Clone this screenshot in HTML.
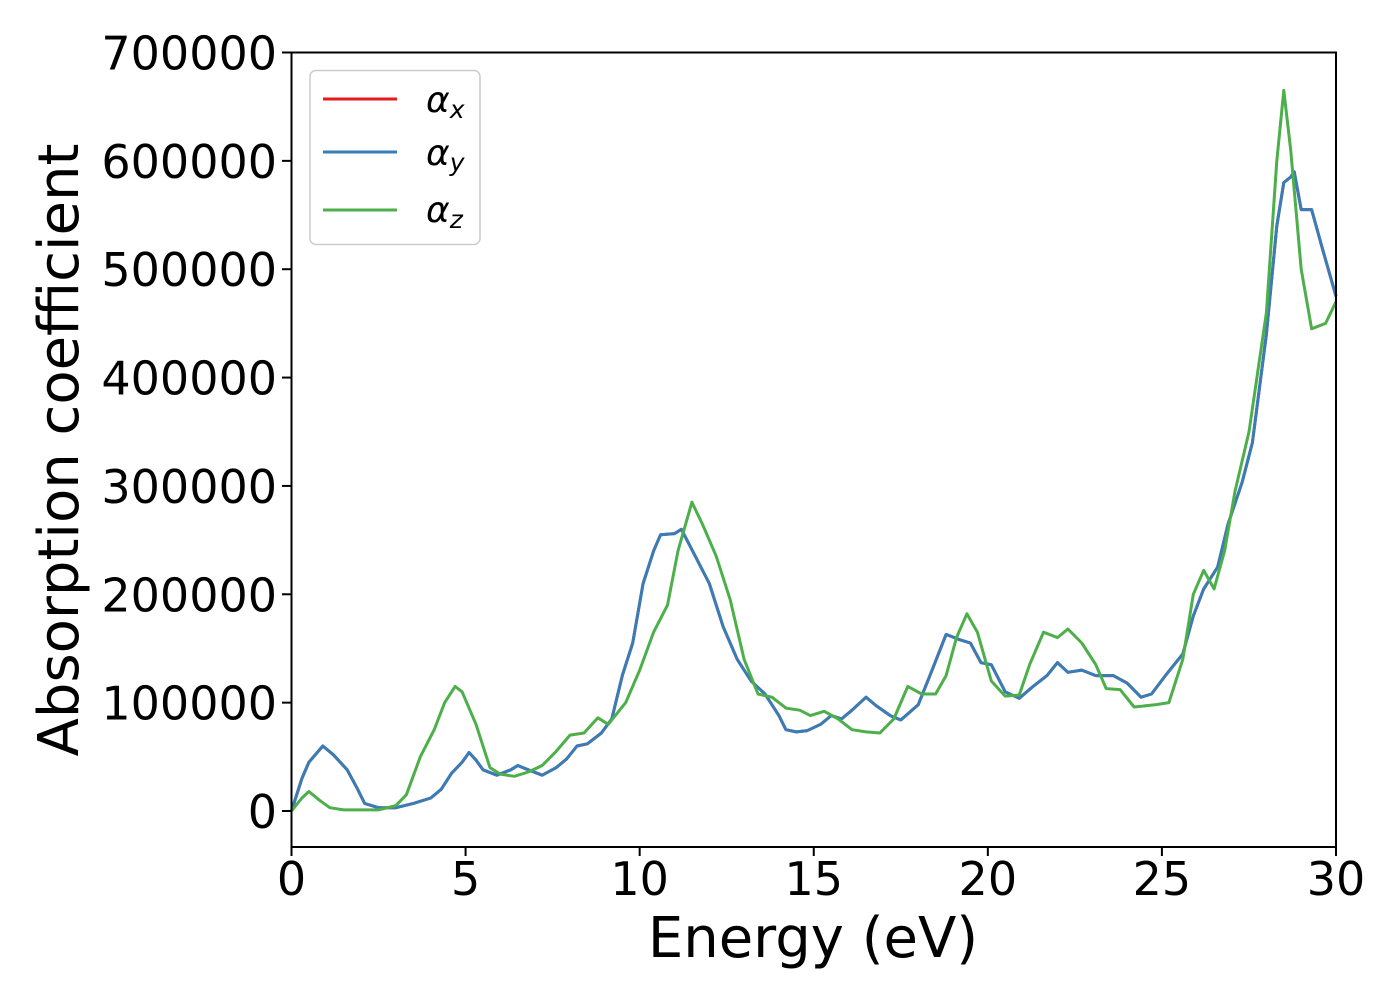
<!DOCTYPE html>
<html><head><meta charset="utf-8"><style>
html,body{margin:0;padding:0;background:#fff;}
svg{display:block;font-family:"DejaVu Sans","Liberation Sans",sans-serif;}
</style></head><body>
<svg id="chart" width="1400" height="1000" xmlns="http://www.w3.org/2000/svg">
<rect width="1400" height="1000" fill="#fff"/>
<g id="marks"></g>
<rect x="291.5" y="52.5" width="1044.5" height="794.5" fill="none" stroke="#000" stroke-width="2"/>
<g id="xt"></g>
<g id="yt"></g>
<text x="813" y="957" font-size="56" text-anchor="middle">Energy (eV)</text>
<text transform="translate(78,450) rotate(-90)" font-size="56" text-anchor="middle">Absorption coefficient</text>
<g>
<rect x="310" y="70.5" width="170" height="174" rx="6" fill="#fff" fill-opacity="0.8" stroke="#ccc" stroke-width="1.5"/>
<line x1="323" y1="99" x2="397" y2="99" stroke="#e41a1c" stroke-width="3"/>
<text x="426" y="112" font-size="36" font-style="italic">α<tspan font-size="25" dy="6">x</tspan></text>
<line x1="323" y1="152" x2="397" y2="152" stroke="#377eb8" stroke-width="3"/>
<text x="426" y="165" font-size="36" font-style="italic">α<tspan font-size="25" dy="6">y</tspan></text>
<line x1="323" y1="210" x2="397" y2="210" stroke="#4daf4a" stroke-width="3"/>
<text x="426" y="222" font-size="36" font-style="italic">α<tspan font-size="25" dy="6">z</tspan></text>
</g>
</svg>
<script>
const xyEnergy=[0,0.3,0.5,0.9,1.2,1.6,1.9,2.1,2.5,3,3.5,4,4.3,4.6,4.9,5.1,5.3,5.5,5.9,6.3,6.5,6.8,7.2,7.6,7.9,8.2,8.5,8.9,9.2,9.5,9.8,10.1,10.4,10.6,11.0,11.2,11.6,12.0,12.4,12.8,13.2,13.6,14.0,14.2,14.5,14.8,15.2,15.5,15.8,16.1,16.5,16.8,17.2,17.5,18.0,18.4,18.8,19.2,19.5,19.8,20.1,20.5,20.9,21.3,21.7,22.0,22.3,22.7,23.1,23.6,24.0,24.4,24.7,25.1,25.6,25.9,26.2,26.6,26.9,27.3,27.6,28.0,28.3,28.5,28.7,28.8,29.0,29.3,29.6,30];
const alphaXY=[0,30000,45000,60000,52000,38000,20000,7000,3000,3000,7000,12000,20000,35000,45000,54000,47000,38000,33000,38000,42000,38000,33000,40000,48000,60000,62000,72000,85000,125000,155000,210000,240000,255000,256000,260000,235000,210000,170000,140000,120000,108000,88000,75000,73000,74000,80000,88000,85000,93000,105000,97000,88000,84000,98000,130000,163000,158000,155000,137000,135000,110000,104000,115000,125000,137000,128000,130000,125000,125000,118000,105000,108000,125000,145000,180000,205000,225000,265000,303000,340000,440000,540000,580000,585000,590000,555000,555000,520000,475000];
const zEnergy=[0,0.3,0.5,0.8,1.1,1.5,2.5,3.0,3.3,3.7,4.1,4.4,4.7,4.9,5.3,5.7,6.0,6.4,6.8,7.2,7.6,8.0,8.4,8.8,9.1,9.6,10.0,10.4,10.8,11.1,11.5,11.8,12.2,12.6,13.0,13.4,13.8,14.2,14.6,14.9,15.3,15.7,16.1,16.5,16.9,17.3,17.7,18.1,18.5,18.8,19.1,19.4,19.7,20.1,20.5,20.9,21.2,21.6,22.0,22.3,22.7,23.1,23.4,23.8,24.2,24.8,25.2,25.6,25.9,26.2,26.5,26.8,27.1,27.5,28.0,28.3,28.5,28.7,29.0,29.3,29.7,30];
const alphaZ=[0,12000,18000,10000,3000,1000,1000,5000,15000,50000,75000,100000,115000,110000,80000,40000,34000,32000,36000,42000,55000,70000,72000,86000,80000,100000,130000,165000,190000,240000,285000,265000,235000,195000,140000,108000,105000,95000,93000,88000,92000,85000,75000,73000,72000,85000,115000,108000,108000,125000,160000,182000,165000,120000,106000,107000,135000,165000,160000,168000,155000,135000,113000,112000,96000,98000,100000,140000,200000,222000,205000,240000,295000,350000,460000,600000,665000,610000,500000,445000,450000,470000];
const xTicks=[0,5,10,15,20,25,30];
const yTicks=[0,100000,200000,300000,400000,500000,600000,700000];
const NS="http://www.w3.org/2000/svg";
function sx(e){return 291.5+e*(1336-291.5)/30;}
function sy(v){return 811-v*(811-52.5)/700000;}
function path(xs,ys){let d="";for(let i=0;i<xs.length;i++){d+=(i?"L":"M")+sx(xs[i]).toFixed(1)+","+sy(ys[i]).toFixed(1);}return d;}
const marks=document.getElementById("marks");
function addLine(xs,ys,color,name){
 const p=document.createElementNS(NS,"path");
 p.setAttribute("d",path(xs,ys));p.setAttribute("fill","none");p.setAttribute("stroke",color);
 p.setAttribute("stroke-width","3");p.setAttribute("stroke-linejoin","round");
 
 
 marks.appendChild(p);
}
addLine(xyEnergy,alphaXY,"#e41a1c","series-alpha-x");
addLine(xyEnergy,alphaXY,"#377eb8","series-alpha-y");
addLine(zEnergy,alphaZ,"#4daf4a","series-alpha-z");
const xt=document.getElementById("xt");
xTicks.forEach(t=>{
 const l=document.createElementNS(NS,"line");
 l.setAttribute("x1",sx(t));l.setAttribute("x2",sx(t));l.setAttribute("y1",847);l.setAttribute("y2",856);
 l.setAttribute("stroke","#000");l.setAttribute("stroke-width","2");
 
 
 xt.appendChild(l);
 const tx=document.createElementNS(NS,"text");
 tx.setAttribute("x",sx(t));tx.setAttribute("y",895);tx.setAttribute("font-size","46");tx.setAttribute("text-anchor","middle");
 tx.textContent=t;
 
 
 xt.appendChild(tx);
});
const yt=document.getElementById("yt");
yTicks.forEach(t=>{
 const l=document.createElementNS(NS,"line");
 l.setAttribute("x1",282);l.setAttribute("x2",291.5);l.setAttribute("y1",sy(t));l.setAttribute("y2",sy(t));
 l.setAttribute("stroke","#000");l.setAttribute("stroke-width","2");
 
 
 yt.appendChild(l);
 const tx=document.createElementNS(NS,"text");
 tx.setAttribute("x",277);tx.setAttribute("y",sy(t)+17);tx.setAttribute("font-size","46");tx.setAttribute("text-anchor","end");
 tx.textContent=t;
 
 
 yt.appendChild(tx);
});
</script>
</body></html>
